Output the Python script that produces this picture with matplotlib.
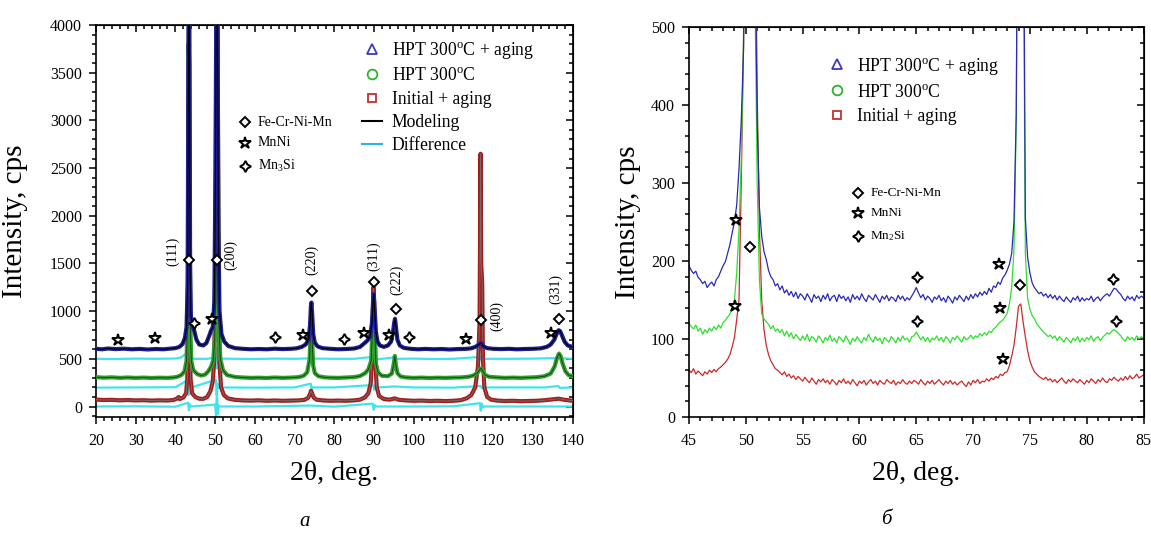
import numpy as np
import matplotlib
matplotlib.use('Agg')
import matplotlib.pyplot as plt
from matplotlib.lines import Line2D
from matplotlib.ticker import MultipleLocator

plt.rcParams['font.family'] = ['Liberation Serif', 'DejaVu Serif']
plt.rcParams['mathtext.fontset'] = 'custom'
plt.rcParams['mathtext.rm'] = 'Liberation Serif'
plt.rcParams['mathtext.it'] = 'Liberation Serif:italic'

# ---------------- panel a : full patterns (2theta, cps) ----------------
a_blue_x = [20, 21.5, 23, 25, 27, 29, 31, 33, 35, 37, 38.5, 40, 41, 41.8, 42.4, 42.8, 43.1, 43.3, 43.5,
            43.7, 43.9, 44.3, 44.7, 45.3, 46, 47, 47.8, 48.5, 49.0, 49.4, 49.8, 50.1, 50.3, 50.6, 50.8,
            51.1, 51.6, 52.3, 53.3, 55, 57, 59, 61, 63, 65, 67, 69, 70.5, 71.8, 72.8, 73.5, 73.9, 74.1,
            74.25, 74.45, 74.7, 75.1, 75.8, 77, 79, 81, 83, 85, 86.5, 87.5, 88.3, 89.0, 89.5, 89.8, 89.95,
            90.2, 90.5, 90.9, 91.5, 92.5, 93.5, 94.3, 94.8, 95.1, 95.3, 95.55, 95.9, 96.5, 97.5, 99, 101,
            103, 105, 107, 109, 111, 113, 114.5, 115.5, 116.3, 116.8, 117.1, 117.6, 118.5, 120, 122, 124,
            126, 128, 130, 132, 133.5, 134.5, 135.4, 136.0, 136.5, 136.9, 137.4, 138, 138.8, 140]
a_blue_y = [605, 600, 608, 602, 606, 600, 604, 598, 603, 600, 606, 612, 625, 655, 720, 830, 1300, 4300, 4300,
            1500, 950, 840, 800, 700, 650, 640, 665, 740, 800, 830, 1100, 2500, 4300, 4300, 2000,
            1000, 760, 680, 635, 612, 605, 600, 603, 600, 606, 602, 605, 610, 625, 650, 700, 850, 1040,
            1090, 960, 760, 670, 630, 612, 605, 600, 603, 608, 625, 660, 690, 730, 880, 1120, 1180,
            1000, 780, 680, 640, 625, 640, 680, 780, 880, 920, 830, 700, 640, 615, 606, 600,
            604, 600, 603, 598, 602, 604, 610, 625, 645, 665, 660, 630, 612, 605, 602, 605,
            600, 603, 605, 610, 625, 650, 700, 760, 800, 790, 740, 680, 640, 625]

a_green_x = [20, 22, 24, 26, 28, 30, 32, 34, 36, 38, 39.5, 40.5, 41.5, 42.3, 42.8, 43.1, 43.3, 43.5, 43.7,
             44.0, 44.5, 45.5, 46.5, 47.5, 48.3, 49.0, 49.5, 49.9, 50.2, 50.45, 50.7, 50.95, 51.3, 52, 53,
             55, 57, 59, 61, 63, 65, 67, 69, 71, 72.3, 73.2, 73.8, 74.05, 74.2, 74.4, 74.7, 75.1, 76, 77.5,
             79, 81, 83, 85, 86.5, 87.8, 88.6, 89.3, 89.7, 89.95, 90.2, 90.5, 91, 92, 93.5, 94.5, 95.0,
             95.25, 95.5, 95.9, 96.7, 98, 100, 102, 104, 106, 108, 110, 112, 113.8, 115, 116, 116.7, 117.0,
             117.4, 118, 119, 121, 123, 125, 127, 129, 131, 133, 134.5, 135.5, 136.1, 136.6, 137.0, 137.5,
             138.2, 139, 140]
a_green_y = [308, 302, 306, 300, 304, 300, 303, 299, 302, 300, 304, 312, 330, 370, 480, 1000, 3800, 3600, 900,
             480, 380, 340, 325, 335, 370, 420, 480, 700, 2500, 4300, 2600, 900, 500, 380, 330,
             310, 304, 300, 302, 299, 304, 300, 303, 308, 322, 360, 500, 780, 880, 720, 430, 350, 318, 306,
             302, 300, 304, 308, 320, 350, 390, 480, 900, 1100, 800, 450, 360, 322, 318, 345, 450,
             530, 440, 350, 315, 305, 300, 303, 299, 302, 300, 303, 305, 312, 325, 350, 390, 400,
             370, 330, 312, 305, 300, 303, 300, 304, 307, 318, 345, 420, 510, 555, 530, 450,
             370, 330, 318]

a_red_x = [20, 22, 24, 26, 28, 30, 32, 34, 36, 38, 39.5, 40.5, 40.8, 41.1, 42, 42.7, 43.0, 43.2, 43.4, 43.6,
           43.8, 44.2, 45, 46, 47, 48, 48.8, 49.4, 49.8, 50.1, 50.35, 50.6, 50.85, 51.1, 51.5, 52.2, 53.2,
           55, 57, 59, 61, 63, 65, 67, 69, 71, 72.5, 73.4, 73.9, 74.15, 74.4, 74.8, 75.5, 77, 79, 81, 83,
           85, 86.5, 87.7, 88.6, 89.2, 89.6, 89.85, 90.05, 90.3, 90.7, 91.3, 92.5, 94, 95.2, 96.3, 98, 100,
           102, 104, 106, 108, 110, 111.8, 113.3, 114.5, 115.5, 116.2, 116.6, 116.85, 117.0, 117.25, 117.45,
           117.8, 118.5, 119.5, 121, 123, 125, 127, 129, 131, 133, 135, 136.5, 138, 140]
a_red_y = [72, 68, 70, 65, 68, 64, 66, 62, 65, 63, 68, 85, 100, 78, 95, 140, 300, 1500, 3200, 1200,
           300, 140, 100, 82, 80, 100, 160, 260, 500, 1800, 4300, 4300, 1500, 450, 200, 120, 85,
           70, 64, 62, 65, 60, 63, 60, 62, 64, 70, 90, 130, 165, 140, 95, 72, 64, 60, 62, 60,
           64, 72, 95, 140, 250, 600, 1250, 1100, 500, 200, 110, 78, 72, 85, 70, 64, 60,
           62, 58, 60, 57, 60, 66, 85, 120, 200, 420, 900, 2650, 1500, 1300, 500,
           200, 100, 72, 62, 58, 60, 56, 58, 60, 66, 75, 82, 70, 60]

# difference curves (offset 500 / 200 / 0)
d_blue_x = [20, 25, 30, 35, 40, 41.5, 42.3, 42.8, 43.2, 43.35, 43.5, 43.7, 44, 45, 48, 49.5, 50.2, 50.4, 50.6,
            50.8, 51.2, 55, 60, 65, 70, 73.8, 74.2, 74.5, 74.8, 80, 85, 89.7, 89.9, 90.1, 90.4, 92, 95.1,
            95.4, 96, 100, 105, 110, 116.8, 117.1, 117.5, 125, 130, 136.5, 140]
d_blue_y = [500, 498, 502, 500, 503, 515, 545, 530, 600, 380, 640, 480, 505, 500, 500, 510, 620, 400, 600,
            480, 502, 500, 498, 502, 500, 505, 545, 480, 502, 500, 500, 520, 470, 535, 495, 500, 515,
            490, 500, 502, 498, 500, 520, 485, 500, 500, 502, 508, 500]
d_green_x = [20, 30, 40, 43.2, 43.35, 43.5, 43.7, 44, 50.2, 50.4, 50.6, 50.8, 51.2, 60, 70, 74.1, 74.3, 74.6,
             80, 89.8, 90.0, 90.2, 90.5, 95.3, 100, 110, 116.9, 117.2, 117.5, 125, 133, 136.4, 136.8, 140]
d_green_y = [198, 200, 202, 280, 120, 260, 190, 200, 280, 120, 240, 195, 200, 198, 200, 240, 180, 200,
             200, 225, 175, 215, 200, 210, 200, 198, 215, 190, 200, 200, 200, 215, 195, 200]
d_red_x = [20, 30, 40, 43.2, 43.4, 43.6, 43.9, 50.0, 50.25, 50.45, 50.65, 50.9, 51.3, 60, 74.2, 80, 89.7,
           89.95, 90.2, 90.5, 100, 110, 116.7, 116.9, 117.15, 117.4, 117.8, 130, 140]
d_red_y = [0, 2, -2, 40, -40, 25, 0, 20, -110, 180, -80, 10, 0, 0, 10, -2, 30,
           -35, 15, 0, 0, 2, 35, -45, 30, -10, 0, 0, 0]

# phase markers, panel a
fcc_a = [(43.4, 1535), (50.4, 1535), (74.5, 1213), (90.0, 1301), (95.6, 1021), (116.9, 904), (136.7, 915)]
mnni_a = [(25.5, 702), (34.8, 716), (49.1, 922), (72.2, 752), (87.6, 770), (93.9, 745), (113.1, 709), (134.7, 770)]
mn3si_a = [(44.8, 876), (65.2, 727), (82.5, 709), (98.9, 727)]
hkl_labels = ['(111)', '(200)', '(220)', '(311)', '(222)', '(400)', '(331)']
hkl_pos = [(39.3, 1624), (54.0, 1585), (74.4, 1535), (90.0, 1578), (95.6, 1330), (121.0, 950), (135.8, 1230)]

# ---------------- panel b : zoom 45-85 deg, step 0.2 ----------------
b_x = np.round(np.arange(45.0, 85.001, 0.2), 1)
b_blue = [194, 188, 184, 187, 179, 176, 171, 174, 166, 170,
          173, 168, 176, 180, 187, 194, 199, 210, 221, 236,
          250, 272, 318, 380, 470, 900, 2500, 3500, 2400, 620,
          380, 268, 232, 212, 202, 188, 180, 176, 168, 171,
          163, 168, 159, 163, 156, 161, 154, 160, 152, 158,
          155, 150, 158, 153, 147, 157, 152, 155, 148, 156,
          151, 158, 149, 154, 156, 148, 157, 152, 155, 149,
          154, 147, 157, 151, 155, 150, 158, 152, 148, 156,
          153, 150, 157, 152, 147, 155, 151, 156, 149, 154,
          152, 148, 156, 151, 155, 149, 153, 150, 155, 160,
          166, 159, 153, 157, 150, 155, 152, 147, 154, 151,
          156, 149, 153, 147, 155, 151, 146, 154, 150, 156,
          152, 148, 155, 150, 157, 152, 158, 154, 160, 156,
          161, 157, 165, 160, 168, 166, 173, 170, 178, 182,
          188, 196, 210, 250, 390, 900, 2200, 800, 255, 205,
          185, 172, 166, 162, 158, 160, 155, 158, 153, 157,
          152, 156, 150, 155, 151, 148, 154, 150, 147, 153,
          150, 155, 148, 153, 149, 152, 150, 155, 148, 152,
          154, 149, 153, 156, 158, 155, 160, 165, 164, 160,
          157, 152, 149, 155, 151, 154, 149, 156, 152, 155,
          153]
b_green = [120, 116, 113, 118, 110, 114, 106, 112, 108, 114,
           110, 116, 112, 118, 114, 121, 124, 128, 132, 140,
           150, 185, 240, 330, 480, 700, 2500, 3500, 2400, 560,
           300, 175, 132, 126, 122, 119, 113, 117, 110, 113,
           108, 112, 104, 110, 103, 108, 100, 106, 102, 98,
           104, 99, 106, 97, 103, 101, 96, 104, 100, 95,
           102, 98, 105, 97, 101, 95, 103, 100, 96, 104,
           99, 93, 101, 97, 103, 98, 95, 102, 98, 106,
           100, 96, 103, 98, 101, 94, 102, 99, 96, 103,
           100, 95, 102, 97, 104, 99, 101, 96, 103, 104,
           109, 104, 99, 103, 97, 102, 96, 101, 99, 104,
           98, 102, 96, 103, 100, 95, 102, 99, 104, 100,
           96, 103, 99, 101, 105, 100, 104, 102, 107, 104,
           108, 105, 110, 108, 113, 115, 119, 122, 124, 128,
           133, 145, 166, 215, 380, 900, 2200, 700, 210, 152,
           138, 130, 126, 120, 116, 112, 109, 106, 103, 105,
           101, 104, 98, 103, 100, 96, 102, 99, 95, 101,
           98, 103, 96, 101, 97, 102, 99, 104, 97, 101,
           103, 98, 102, 105, 108, 106, 110, 112, 110, 107,
           104, 100, 97, 103, 99, 102, 98, 104, 100, 103,
           101]
b_red = [60, 57, 62, 55, 59, 56, 53, 58, 55, 60,
         57, 61, 58, 62, 64, 67, 70, 74, 80, 90,
         102, 125, 150, 300, 480, 1000, 2500, 3500, 2600, 700,
         420, 240, 150, 112, 92, 80, 72, 67, 62, 60,
         57, 54, 58, 52, 55, 50, 53, 48, 52, 49,
         46, 51, 47, 44, 50, 46, 42, 48, 45, 49,
         44, 47, 42, 48, 45, 41, 47, 44, 49, 43,
         46, 42, 48, 44, 40, 46, 43, 47, 41, 45,
         48, 43, 46, 41, 47, 44, 42, 48, 45, 43,
         47, 41, 45, 43, 48, 44, 42, 46, 43, 47,
         45, 42, 48, 44, 41, 46, 43, 47, 42, 45,
         48, 44, 41, 46, 43, 47, 42, 45, 41, 44,
         46, 42, 39, 45, 41, 47, 44, 48, 43, 46,
         45, 49, 46, 50, 48, 52, 50, 55, 53, 57,
         58, 66, 78, 92, 115, 142, 145, 122, 103, 85,
         72, 64, 58, 55, 52, 50, 48, 51, 47, 49,
         45, 48, 44, 47, 50, 46, 43, 48, 45, 49,
         46, 44, 48, 45, 42, 47, 44, 49, 46, 43,
         48, 45, 50, 46, 44, 49, 47, 51, 48, 46,
         50, 47, 52, 48, 53, 49, 51, 55, 50, 52,
         54]

fcc_b = [(50.4, 218), (74.14, 169)]
mnni_b = [(49.12, 253), (49.03, 142), (72.3, 196), (72.4, 140), (72.6, 74)]
mn2si_b = [(65.03, 180), (65.1, 123), (82.35, 177), (82.57, 123)]

series_labels = ['HPT 300$^{\\rm o}$C + aging', 'HPT 300$^{\\rm o}$C', 'Initial + aging']

FOUR_STAR = (4, 1, 0)


def style_axes(ax, xmaj, xmin, ymaj, ymin):
    ax.xaxis.set_major_locator(MultipleLocator(xmaj))
    ax.xaxis.set_minor_locator(MultipleLocator(xmin))
    ax.yaxis.set_major_locator(MultipleLocator(ymaj))
    ax.yaxis.set_minor_locator(MultipleLocator(ymin))
    ax.tick_params(which='both', direction='out', width=1.1, labelsize=11.5)
    ax.tick_params(axis='x', which='both', pad=6.5)
    ax.tick_params(axis='y', which='both', pad=5)
    ax.tick_params(which='major', length=5)
    ax.tick_params(which='minor', length=3)
    for s in ax.spines.values():
        s.set_linewidth(1.2)
    top = ax.secondary_xaxis('top')
    top.xaxis.set_major_locator(MultipleLocator(xmaj))
    top.xaxis.set_minor_locator(MultipleLocator(xmin))
    top.tick_params(which='both', direction='in', labeltop=False, width=1.1)
    top.tick_params(which='major', length=5)
    top.tick_params(which='minor', length=3)
    right = ax.secondary_yaxis('right')
    right.yaxis.set_major_locator(MultipleLocator(ymaj))
    right.yaxis.set_minor_locator(MultipleLocator(ymin))
    right.tick_params(which='both', direction='in', labelright=False, width=1.1)
    right.tick_params(which='major', length=5)
    right.tick_params(which='minor', length=3)


def phase_marks(ax, pts, marker, ms):
    for x, y in pts:
        ax.plot(x, y, marker=marker, ms=ms, mfc='white', mec='black', mew=1.4, ls='none', zorder=6)


def phase_key(ax, x0, y0s, names, fs, mk_dx):
    markers = [('D', 5), ('*', 9), (FOUR_STAR, 8)]
    for (m, ms), y, name in zip(markers, y0s, names):
        ax.plot([x0], [y], marker=m, ms=ms, mfc='white', mec='black', mew=1.4, ls='none',
                transform=ax.transAxes, clip_on=False, zorder=6)
        ax.text(x0 + mk_dx, y, name, fontsize=fs, va='center', ha='left', transform=ax.transAxes)


fig = plt.figure(figsize=(11.51, 5.34), dpi=100)

# ---------- a ----------
ax1 = fig.add_axes([0.0834, 0.2191, 0.4140, 0.7341])
ax1.plot(d_red_x, d_red_y, color='#40e4ec', lw=1.6, zorder=2)
ax1.plot(d_green_x, d_green_y, color='#40e4ec', lw=1.6, zorder=2)
ax1.plot(d_blue_x, d_blue_y, color='#40e4ec', lw=1.6, zorder=2)
ax1.plot(a_red_x, a_red_y, color='#a81a1a', lw=3.0, zorder=3)
ax1.plot(a_red_x, a_red_y, color='#6e6e6e', lw=0.7, zorder=3)
ax1.plot(a_green_x, a_green_y, color='#2ea02e', lw=3.0, zorder=3)
ax1.plot(a_green_x, a_green_y, color='#1a3a1a', lw=0.6, zorder=3)
ax1.plot(a_blue_x, a_blue_y, color='#20209a', lw=3.0, zorder=4)
ax1.plot(a_blue_x, a_blue_y, color='black', lw=0.8, zorder=4)
ax1.set_xlim(20, 140)
ax1.set_ylim(-110, 4000)
style_axes(ax1, 10, 2, 500, 100)
ax1.set_xlabel('2θ, deg.', fontsize=20, labelpad=9)
ax1.set_ylabel('Intensity, cps', fontsize=21)
ax1.yaxis.set_label_coords(-0.143, 0.5)

phase_marks(ax1, fcc_a, 'D', 5)
phase_marks(ax1, mnni_a, '*', 9)
phase_marks(ax1, mn3si_a, FOUR_STAR, 8)
for lab, (x, y) in zip(hkl_labels, hkl_pos):
    ax1.text(x, y, lab, rotation=90, fontsize=10, ha='center', va='center', zorder=6)

phase_key(ax1, 0.312, [0.7518, 0.6990, 0.6403], ['Fe-Cr-Ni-Mn', 'MnNi', 'Mn$_3$Si'], 10, 0.028)

handles_a = [Line2D([], [], marker='^', ls='none', mfc='none', mec='#3a3ac0', ms=7, mew=1.3),
             Line2D([], [], marker='o', ls='none', mfc='none', mec='#30b030', ms=7, mew=1.3),
             Line2D([], [], marker='s', ls='none', mfc='none', mec='#c03030', ms=6, mew=1.3),
             Line2D([], [], color='black', lw=1.5),
             Line2D([], [], color='#29b6e0', lw=1.5)]
ax1.legend(handles_a, series_labels + ['Modeling', 'Difference'], loc='upper left',
           bbox_to_anchor=(0.5576, 0.9617), frameon=False, fontsize=12.7, borderpad=0,
           borderaxespad=0, handlelength=1.13, handletextpad=0.58, labelspacing=0.36)

# ---------- б ----------
ax2 = fig.add_axes([0.5986, 0.2191, 0.3949, 0.7303])
ax2.plot(b_x, b_red, color='#cc2a2a', lw=0.9)
ax2.plot(b_x, b_green, color='#2ee02e', lw=0.9)
ax2.plot(b_x, b_blue, color='#2a2ab5', lw=0.9)
ax2.set_xlim(45, 85)
ax2.set_ylim(0, 500)
style_axes(ax2, 5, 1, 100, 20)
ax2.set_xlabel('2θ, deg.', fontsize=20, labelpad=9)
ax2.set_ylabel('Intensity, cps', fontsize=21)
ax2.yaxis.set_label_coords(-0.106, 0.5)

phase_marks(ax2, fcc_b, 'D', 5)
phase_marks(ax2, mnni_b, '*', 9)
phase_marks(ax2, mn2si_b, FOUR_STAR, 8)
phase_key(ax2, 0.3717, [0.5738, 0.5223, 0.4649], ['Fe-Cr-Ni-Mn', 'MnNi', 'Mn$_2$Si'], 9.5, 0.027)

handles_b = handles_a[:3]
ax2.legend(handles_b, series_labels, loc='upper left',
           bbox_to_anchor=(0.303, 0.9267), frameon=False, fontsize=12.7, borderpad=0,
           borderaxespad=0, handlelength=1.13, handletextpad=0.58, labelspacing=0.40)

fig.text(304.5 / 1151, 1 - 521 / 534, 'a', fontsize=15, style='italic', ha='center', va='center')
fig.text(886 / 1151, 1 - 519 / 534, 'б', fontsize=15, style='italic', ha='center', va='center')

fig.savefig('out.png', dpi=100)
